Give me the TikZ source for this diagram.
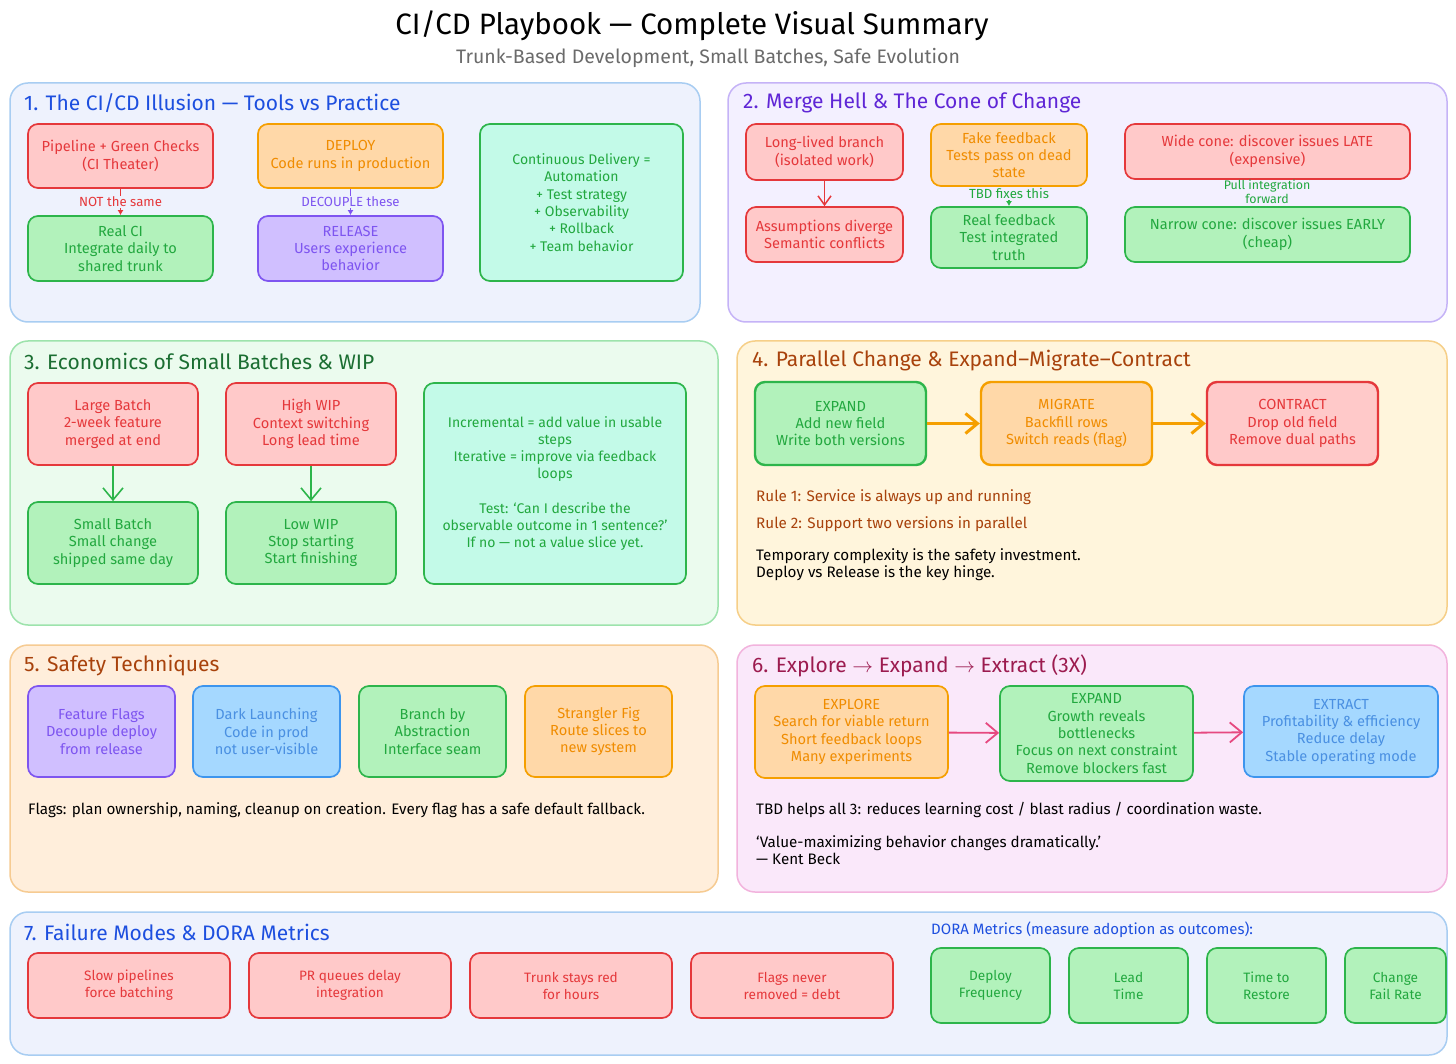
\documentclass[tikz,border=0pt]{standalone}
\usepackage{fontspec}
\setmainfont{Fira Sans}
\usetikzlibrary{arrows.meta,positioning}
\definecolor{pbredfill}{HTML}{FFC9C9}
\definecolor{pbredline}{HTML}{E5383B}
\definecolor{pbgreenfill}{HTML}{B2F2BB}
\definecolor{pbgreenline}{HTML}{2DB54B}
\definecolor{pbgreentext}{HTML}{22A83F}
\definecolor{pborangefill}{HTML}{FFD8A8}
\definecolor{pborangeline}{HTML}{F59F00}
\definecolor{pborangetext}{HTML}{F08C00}
\definecolor{pbpurplefill}{HTML}{D0BFFF}
\definecolor{pbpurpleline}{HTML}{7E55F0}
\definecolor{pbbluefill}{HTML}{A5D8FF}
\definecolor{pbblueline}{HTML}{3D95EE}
\definecolor{pbbluetext}{HTML}{4A90E2}
\definecolor{pbmintfill}{HTML}{C3FAE8}
\definecolor{pbpink}{HTML}{E64980}
\definecolor{pbpanela}{HTML}{EEF2FD}
\definecolor{pbpanelaline}{HTML}{A8CDF2}
\definecolor{pbpanelb}{HTML}{F3F0FF}
\definecolor{pbpanelbline}{HTML}{C5B3F7}
\definecolor{pbpanelc}{HTML}{EBFBEE}
\definecolor{pbpanelcline}{HTML}{9DE3AC}
\definecolor{pbpaneld}{HTML}{FFF5DC}
\definecolor{pbpaneldline}{HTML}{F6CF88}
\definecolor{pbpanele}{HTML}{FFEEDB}
\definecolor{pbpaneleline}{HTML}{F6CB92}
\definecolor{pbpanelf}{HTML}{FAE8FA}
\definecolor{pbpanelfline}{HTML}{F2B3DD}
\definecolor{pbtblue}{HTML}{1D4FDF}
\definecolor{pbtpurple}{HTML}{5F26D6}
\definecolor{pbtgreen}{HTML}{1B6E32}
\definecolor{pbtbrown}{HTML}{A8420C}
\definecolor{pbtberry}{HTML}{9C1B4F}
\tikzset{
  pbbox/.style={rounded corners=10pt, line width=1.7pt, align=center,
                font=\fontsize{14.6}{17.3}\selectfont, inner sep=2pt},
  pbred/.style={pbbox, draw=pbredline, fill=pbredfill, text=pbredline},
  pbgreen/.style={pbbox, draw=pbgreenline, fill=pbgreenfill, text=pbgreentext},
  pborange/.style={pbbox, draw=pborangeline, fill=pborangefill, text=pborangetext},
  pbpurple/.style={pbbox, draw=pbpurpleline, fill=pbpurplefill, text=pbpurpleline},
  pbblue/.style={pbbox, draw=pbblueline, fill=pbbluefill, text=pbbluetext},
  pbmint/.style={pbbox, draw=pbgreenline, fill=pbmintfill, text=pbgreentext,
                 font=\fontsize{14}{17.3}\selectfont},
  pbsmall/.style={font=\fontsize{13.6}{17}\selectfont},
  pbpanel/.style={rounded corners=18pt, line width=1.5pt},
  pbtitle/.style={anchor=west, inner sep=0pt, font=\fontsize{21}{24}\selectfont},
  pbnote/.style={anchor=west, inner sep=0pt, align=left,
                 font=\fontsize{15.2}{17.5}\selectfont},
  pblabel/.style={inner sep=1pt, font=\fontsize{13.2}{14}\selectfont},
  pbtip/.style={-{Latex[length=5pt,width=6pt]}, line width=1.2pt},
  pbbarb/.style={-{Straight Barb[length=12pt,width=20pt]}, line width=1.8pt},
}
\begin{document}
\begin{tikzpicture}[x=1pt, y=-1pt]
  \useasboundingbox[fill=white] (0,0) rectangle (1456,1064);

  % --- heading ---
  \node[font=\fontsize{29.5}{32}\selectfont] (head) at (692,26)
    {CI/CD Playbook --- Complete Visual Summary};
  \node[font=\fontsize{19.5}{22}\selectfont, text=black!58] (subhead) at (708,58)
    {Trunk-Based Development, Small Batches, Safe Evolution};

  % --- panels ---
  \path[pbpanel, fill=pbpanela, draw=pbpanelaline] (10,83) rectangle (700,322);
  \path[pbpanel, fill=pbpanelb, draw=pbpanelbline] (728,83) rectangle (1447,322);
  \path[pbpanel, fill=pbpanelc, draw=pbpanelcline] (10,341) rectangle (718,625);
  \path[pbpanel, fill=pbpaneld, draw=pbpaneldline] (737,341) rectangle (1447,625);
  \path[pbpanel, fill=pbpanele, draw=pbpaneleline] (10,645) rectangle (718,892);
  \path[pbpanel, fill=pbpanelf, draw=pbpanelfline] (737,645) rectangle (1447,892);
  \path[pbpanel, fill=pbpanela, draw=pbpanelaline] (10,912) rectangle (1447,1055);

  % --- 1. illusion ---
  \node[pbtitle, text=pbtblue] (t1) at (24,103) {1. The CI/CD Illusion --- Tools vs Practice};
  \node[pbred, minimum width=185pt, minimum height=64pt] (pipe) at (120.5,156)
    {Pipeline + Green Checks\\(CI Theater)};
  \node[pbgreen, minimum width=185pt, minimum height=65pt] (realci) at (120.5,248.5)
    {Real CI\\Integrate daily to\\shared trunk};
  \node[pborange, minimum width=185pt, minimum height=64pt] (deploy) at (350.5,156)
    {DEPLOY\\Code runs in production};
  \node[pbpurple, minimum width=185pt, minimum height=65pt] (release) at (350.5,248.5)
    {RELEASE\\Users experience\\behavior};
  \node[pbmint, minimum width=203pt, minimum height=157pt] (cdel) at (581.5,202.5)
    {Continuous Delivery =\\Automation\\+ Test strategy\\+ Observability\\+ Rollback\\+ Team behavior};
  \draw[pbtip, pbredline] (pipe) -- (realci)
    node[pblabel, midway, fill=pbpanela, text=pbredline] {NOT the same};
  \draw[pbtip, pbpurpleline] (deploy) -- (release)
    node[pblabel, midway, fill=pbpanela, text=pbpurpleline] {DECOUPLE these};

  % --- 2. merge hell ---
  \node[pbtitle, text=pbtpurple] (t2) at (743,103) {2. Merge Hell \& The Cone of Change};
  \node[pbred, minimum width=157pt, minimum height=56pt] (longbr) at (824.5,152)
    {Long-lived branch\\(isolated work)};
  \node[pbred, minimum width=157pt, minimum height=55pt] (assume) at (824.5,234.5)
    {Assumptions diverge\\Semantic conflicts};
  \node[pborange, minimum width=156pt, minimum height=62pt] (fakefb) at (1009,155)
    {Fake feedback\\Tests pass on dead\\state};
  \node[pbgreen, minimum width=156pt, minimum height=61pt] (realfb) at (1009,237.5)
    {Real feedback\\Test integrated\\truth};
  \node[pbred, minimum width=285pt, minimum height=55pt] (wide) at (1267.5,151.5)
    {Wide cone: discover issues LATE\\(expensive)};
  \node[pbgreen, minimum width=285pt, minimum height=55pt] (narrow) at (1267.5,234.5)
    {Narrow cone: discover issues EARLY\\(cheap)};
  \draw[-{Straight Barb[length=9pt,width=13pt]}, line width=1.5pt, pbredline] (longbr) -- (assume);
  \draw[pbtip, pbgreenline] (fakefb) -- (realfb)
    node[pblabel, midway, yshift=3pt, fill=pbpanelb, text=pbgreentext] {TBD fixes this};
  \node[pblabel, align=center, text=pbgreentext, font=\fontsize{12.4}{14}\selectfont]
    (pullfw) at (1267,192) {Pull integration\\forward};

  % --- 3. small batches ---
  \node[pbtitle, text=pbtgreen] (t3) at (24,361) {3. Economics of Small Batches \& WIP};
  \node[pbred, minimum width=170pt, minimum height=82pt] (largeb) at (113,424)
    {Large Batch\\2-week feature\\merged at end};
  \node[pbgreen, minimum width=170pt, minimum height=82pt] (smallb) at (113,543)
    {Small Batch\\Small change\\shipped same day};
  \node[pbred, minimum width=170pt, minimum height=82pt] (highwip) at (311,424)
    {High WIP\\Context switching\\Long lead time};
  \node[pbgreen, minimum width=170pt, minimum height=82pt] (lowwip) at (311,543)
    {Low WIP\\Stop starting\\Start finishing};
  \node[pbmint, minimum width=262pt, minimum height=201pt] (incr) at (555,483.5)
    {Incremental = add value in usable\\steps\\Iterative = improve via feedback\\loops\\[17pt]Test: `Can I describe the\\observable outcome in 1 sentence?'\\If no --- not a value slice yet.};
  \draw[pbbarb, pbgreenline, line width=1.6pt] (largeb) -- (smallb);
  \draw[pbbarb, pbgreenline, line width=1.6pt] (highwip) -- (lowwip);

  % --- 4. parallel change ---
  \node[pbtitle, text=pbtbrown] (t4) at (752,361) {4. Parallel Change \& Expand--Migrate--Contract};
  \node[pbgreen, line width=2.4pt, minimum width=171pt, minimum height=83pt] (expand) at (840.5,423.5)
    {EXPAND\\Add new field\\Write both versions};
  \node[pborange, line width=2.4pt, minimum width=171pt, minimum height=83pt] (migrate) at (1066.5,423.5)
    {MIGRATE\\Backfill rows\\Switch reads (flag)};
  \node[pbred, line width=2.4pt, minimum width=171pt, minimum height=83pt] (contract) at (1292.5,423.5)
    {CONTRACT\\Drop old field\\Remove dual paths};
  \draw[pbbarb, pborangeline, line width=3pt] (expand) -- (migrate);
  \draw[pbbarb, pborangeline, line width=3pt] (migrate) -- (contract);
  \node[pbnote, text=pbtbrown] (rule1) at (756,497) {Rule 1: Service is always up and running};
  \node[pbnote, text=pbtbrown] (rule2) at (756,524) {Rule 2: Support two versions in parallel};
  \node[pbnote, anchor=north west] (hinge) at (756,548)
    {Temporary complexity is the safety investment.\\Deploy vs Release is the key hinge.};

  % --- 5. safety techniques ---
  \node[pbtitle, text=pbtbrown] (t5) at (24,666) {5. Safety Techniques};
  \node[pbpurple, minimum width=147pt, minimum height=91pt] (flags) at (101.5,731.5)
    {Feature Flags\\Decouple deploy\\from release};
  \node[pbblue, minimum width=147pt, minimum height=91pt] (darkl) at (266.5,731.5)
    {Dark Launching\\Code in prod\\not user-visible};
  \node[pbgreen, minimum width=147pt, minimum height=91pt] (branchab) at (432.5,731.5)
    {Branch by\\Abstraction\\Interface seam};
  \node[pborange, minimum width=147pt, minimum height=91pt] (strangler) at (598.5,731.5)
    {Strangler Fig\\Route slices to\\new system};
  \node[pbnote] (flagnote) at (28,810)
    {Flags: plan ownership, naming, cleanup on creation. Every flag has a safe default fallback.};

  % --- 6. 3X ---
  \node[pbtitle, text=pbtberry] (t6) at (752,666)
    {6. Explore $\rightarrow$ Expand $\rightarrow$ Extract (3X)};
  \node[pborange, minimum width=193pt, minimum height=92pt] (explore) at (851.5,732)
    {EXPLORE\\Search for viable return\\Short feedback loops\\Many experiments};
  \node[pbgreen, minimum width=193pt, minimum height=95pt] (growth) at (1096.5,733.5)
    {EXPAND\\Growth reveals\\bottlenecks\\Focus on next constraint\\Remove blockers fast};
  \node[pbblue, minimum width=194pt, minimum height=91pt] (extract) at (1341,731.5)
    {EXTRACT\\Profitability \& efficiency\\Reduce delay\\Stable operating mode};
  \draw[pbbarb, pbpink] (explore) -- (growth);
  \draw[pbbarb, pbpink] (growth) -- (extract);
  \node[pbnote] (tbdnote) at (756,810)
    {TBD helps all 3: reduces learning cost / blast radius / coordination waste.};
  \node[pbnote, anchor=north west] (quote) at (756,835)
    {`Value-maximizing behavior changes dramatically.'\\--- Kent Beck};

  % --- 7. failure modes & DORA ---
  \node[pbtitle, text=pbtblue] (t7) at (24,932) {7. Failure Modes \& DORA Metrics};
  \node[pbred, pbsmall, minimum width=202pt, minimum height=65pt] (slowpl) at (129,985.5)
    {Slow pipelines\\force batching};
  \node[pbred, pbsmall, minimum width=202pt, minimum height=65pt] (prq) at (350,985.5)
    {PR queues delay\\integration};
  \node[pbred, pbsmall, minimum width=202pt, minimum height=65pt] (trunkred) at (571,985.5)
    {Trunk stays red\\for hours};
  \node[pbred, pbsmall, minimum width=202pt, minimum height=65pt] (flagsnr) at (792,985.5)
    {Flags never\\removed = debt};
  \node[pblabel, anchor=west, inner sep=0pt, text=pbtblue, font=\fontsize{15}{17}\selectfont]
    (doralbl) at (931,930) {DORA Metrics (measure adoption as outcomes):};
  \node[pbgreen, pbsmall, minimum width=119pt, minimum height=75pt] (deployf) at (990.5,985.5)
    {Deploy\\Frequency};
  \node[pbgreen, pbsmall, minimum width=119pt, minimum height=75pt] (leadt) at (1128.5,985.5)
    {Lead\\Time};
  \node[pbgreen, pbsmall, minimum width=119pt, minimum height=75pt] (restore) at (1266.5,985.5)
    {Time to\\Restore};
  \node[pbgreen, pbsmall, minimum width=101pt, minimum height=75pt] (failrate) at (1395.5,985.5)
    {Change\\Fail Rate};
\end{tikzpicture}
\end{document}
